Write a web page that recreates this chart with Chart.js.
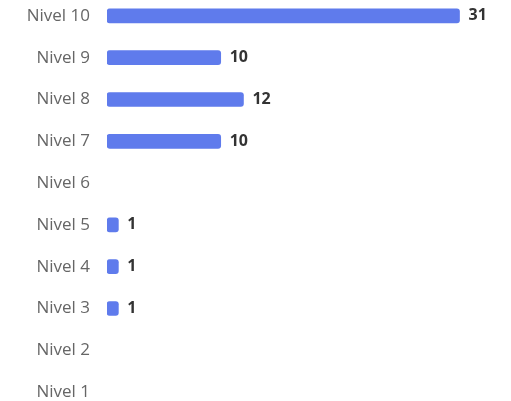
<!DOCTYPE html>
<html><head><meta charset="utf-8">
<script src="https://cdn.jsdelivr.net/npm/chart.js@4"></script>
<style>html,body{margin:0;padding:0;background:#fff;overflow:hidden;width:511px;height:401px}
#c{position:absolute;left:0;top:-5px}</style>
</head><body><canvas id="c" width="511" height="418" style="width:511px;height:418px"></canvas>
<script>
const categories = ["Nivel 10","Nivel 9","Nivel 8","Nivel 7","Nivel 6","Nivel 5","Nivel 4","Nivel 3","Nivel 2","Nivel 1"];
const values = [31,10,12,10,0,1,1,1,0,0];
const xMax = 35;

const valueLabels = {
  id:'valueLabels',
  afterDatasetsDraw(chart){
    const ctx = chart.ctx;
    const meta = chart.getDatasetMeta(0);
    ctx.save();
    ctx.font = 'bold 16px "Open Sans", sans-serif';
    ctx.fillStyle = '#333';
    ctx.textAlign = 'left';
    ctx.textBaseline = 'middle';
    meta.data.forEach((bar,i)=>{
      const v = values[i];
      if(!v) return;
      ctx.fillText(String(v), bar.x + 9, bar.y);
    });
    ctx.restore();
  }
};

new Chart(document.getElementById('c'),{
  type:'bar',
  data:{labels:categories,datasets:[{data:values.map(v=>v||null),backgroundColor:'#5f7bec',borderRadius:3,borderSkipped:false,barThickness:14}]},
  options:{
    indexAxis:'y',responsive:false,maintainAspectRatio:false,animation:false,devicePixelRatio:1,
    layout:{padding:{left:0,right:6,top:0,bottom:0}},
    plugins:{legend:{display:false},tooltip:{enabled:false}},
    scales:{
      x:{display:false,min:0,max:xMax},
      y:{grid:{display:false},border:{display:false},
         ticks:{padding:9,color:'#666',font:{size:17,family:'"Open Sans", sans-serif'}},
         afterFit(s){s.width=107;s.paddingTop=0;s.paddingBottom=0;}}
    }
  },
  plugins:[valueLabels]
});
</script></body></html>
